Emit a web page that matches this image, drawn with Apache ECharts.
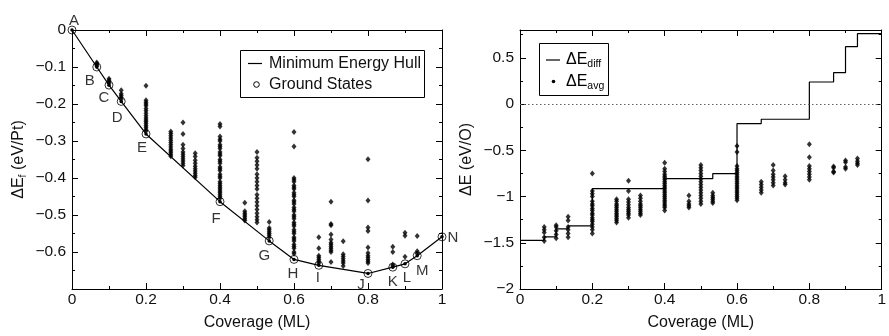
<!DOCTYPE html>
<html><head><meta charset="utf-8">
<script src="https://cdn.jsdelivr.net/npm/echarts@6/dist/echarts.min.js"></script>
<style>html,body{margin:0;padding:0;background:#fff}#c{width:889px;height:336px}</style>
</head><body><div id="c"></div>
<script>
// ---------- DATA ----------
const coverageCols = [0.067,0.1,0.133,0.2,0.267,0.3,0.333,0.4,0.467,0.5,0.533,0.6,0.667,0.7,0.733,0.8,0.867,0.9,0.933];

const configEnergyF = [
  [-0.088,-0.091,-0.094,-0.097],
  [-0.132,-0.136,-0.14,-0.144],
  [-0.163,-0.172,-0.177,-0.182,-0.187],
  [-0.151,-0.19,-0.195,-0.2,-0.205,-0.212,-0.218,-0.225,-0.232,-0.238,-0.243,-0.248,-0.253,-0.258,-0.263,-0.268,-0.273],
  [-0.274,-0.28,-0.286,-0.292,-0.298,-0.304,-0.31,-0.316,-0.322,-0.327,-0.332,-0.337,-0.341],
  [-0.25,-0.281,-0.31,-0.32,-0.33,-0.336,-0.342,-0.348,-0.354,-0.36,-0.366],
  [-0.333,-0.342,-0.352,-0.36,-0.368,-0.375,-0.381,-0.387,-0.393,-0.398],
  [-0.254,-0.261,-0.288,-0.295,-0.3,-0.31,-0.315,-0.32,-0.33,-0.335,-0.34,-0.35,-0.355,-0.36,-0.37,-0.375,-0.38,-0.39,-0.395,-0.4,-0.41,-0.415,-0.42,-0.425,-0.43,-0.435,-0.44,-0.445,-0.45,-0.455],
  [-0.467,-0.49,-0.495,-0.5,-0.505,-0.51,-0.515],
  [-0.33,-0.345,-0.355,-0.365,-0.375,-0.39,-0.4,-0.41,-0.42,-0.43,-0.445,-0.455,-0.465,-0.475,-0.485,-0.495,-0.505,-0.513,-0.52],
  [-0.519,-0.535,-0.54,-0.545,-0.55,-0.555,-0.56],
  [-0.276,-0.315,-0.4,-0.405,-0.41,-0.42,-0.425,-0.43,-0.44,-0.445,-0.45,-0.46,-0.465,-0.47,-0.48,-0.485,-0.49,-0.5,-0.505,-0.51,-0.52,-0.525,-0.53,-0.54,-0.545,-0.55,-0.56,-0.565,-0.57,-0.58,-0.585,-0.59,-0.6,-0.605],
  [-0.56,-0.59,-0.61,-0.615,-0.62,-0.625,-0.63],
  [-0.464,-0.524,-0.528,-0.553,-0.566,-0.575,-0.58,-0.585,-0.59,-0.595,-0.6,-0.627],
  [-0.571,-0.606,-0.612,-0.618,-0.624,-0.63,-0.638],
  [-0.349,-0.461,-0.534,-0.543,-0.588,-0.603,-0.61,-0.615,-0.62,-0.625,-0.63],
  [-0.586,-0.6,-0.634,-0.638],
  [-0.548,-0.556,-0.613],
  [-0.557,-0.598,-0.604]
];

const groundLabels   = ['A','B','C','D','E','F','G','H','I','J','K','L','M','N'];
const groundCoverage = [0,0.067,0.1,0.133,0.2,0.4,0.533,0.6,0.667,0.8,0.867,0.9,0.933,1];
const groundEnergyF  = [0,-0.1,-0.149,-0.193,-0.281,-0.464,-0.57,-0.62,-0.636,-0.658,-0.641,-0.632,-0.61,-0.559];

const diffCoverage = [0,0.067,0.1,0.133,0.2,0.4,0.533,0.6,0.667,0.8,0.867,0.9,0.933,1];
const diffEnergy   = [-1.475,-1.436,-1.35,-1.317,-0.914,-0.806,-0.752,-0.212,-0.165,0.238,0.339,0.62,0.76];

const avgEnergy = [
  [-1.33,-1.36,-1.39,-1.44,-1.48],
  [-1.31,-1.33,-1.37,-1.41,-1.45],
  [-1.22,-1.26,-1.33,-1.36,-1.4,-1.44],
  [-0.75,-0.94,-0.97,-1.0,-1.05,-1.08,-1.1,-1.13,-1.15,-1.18,-1.2,-1.23,-1.25,-1.27,-1.3,-1.33,-1.36,-1.4],
  [-1.03,-1.05,-1.08,-1.1,-1.12,-1.14,-1.16,-1.18,-1.2,-1.22,-1.24,-1.26,-1.28],
  [-0.83,-0.94,-1.03,-1.06,-1.09,-1.12,-1.14,-1.16,-1.18,-1.2,-1.23],
  [-0.99,-1.02,-1.05,-1.08,-1.1,-1.12,-1.14,-1.16,-1.18,-1.2],
  [-0.635,-0.7,-0.73,-0.76,-0.78,-0.8,-0.82,-0.84,-0.86,-0.88,-0.9,-0.92,-0.94,-0.96,-0.98,-1.0,-1.02,-1.04,-1.06,-1.08,-1.1,-1.12,-1.15],
  [-0.99,-1.05,-1.08,-1.1,-1.12],
  [-0.66,-0.69,-0.72,-0.75,-0.78,-0.81,-0.84,-0.87,-0.9,-0.93,-0.96,-0.99,-1.02,-1.05,-1.08],
  [-0.96,-0.99,-1.01,-1.03,-1.05,-1.07],
  [-0.455,-0.52,-0.67,-0.7,-0.72,-0.74,-0.76,-0.78,-0.8,-0.82,-0.84,-0.86,-0.88,-0.9,-0.92,-0.94,-0.96,-0.98,-1.0,-1.02,-1.04],
  [-0.84,-0.87,-0.9,-0.93,-0.96],
  [-0.66,-0.72,-0.76,-0.79,-0.82,-0.85,-0.88],
  [-0.78,-0.82,-0.85,-0.87],
  [-0.435,-0.575,-0.67,-0.7,-0.73,-0.76,-0.79,-0.82],
  [-0.675,-0.69,-0.73,-0.74],
  [-0.61,-0.63,-0.68,-0.7],
  [-0.59,-0.62,-0.64,-0.66]
];

const xTitle = 'Coverage (ML)';
const legendLeft = ['Minimum Energy Hull','Ground States'];

// ---------- STYLE / LAYOUT ----------
const FONT = '"Liberation Sans", Arial, Helvetica, sans-serif';
const INK = '#111';
const LABEL_OFFSETS = [[2,-9],[-7,14],[-5,13],[-4,16],[-4,14],[-4,17],[-5,15],[-1,14],[-1,13],[-7,11],[0,15],[2,14],[5,15],[11,1]];

function flatten(cols, vals){
  const out=[];
  cols.forEach((x,i)=>vals[i].forEach(v=>out.push([x,v])));
  return out;
}
function fmt(v){
  if (Math.abs(v) < 1e-9) return '0';
  return String(+v.toFixed(2)).replace('-', '\u2212');
}
const G0 = {left:72, top:30, width:370, height:259.5};
const G1 = {left:520, top:30, width:370, height:259.5};

function xAx(grid, pos, labels){
  return {
    type:'value', gridIndex:grid, position:pos, min:0, max:1, interval:0.2,
    axisLine:{show:true, onZero:false, lineStyle:{color:'#000', width:1}},
    axisTick:{show:true, inside:true, length:6, lineStyle:{color:'#000'}},
    minorTick:{show:true, splitNumber:2, length:3, lineStyle:{color:'#000'}},
    splitLine:{show:false},
    axisLabel:{show:labels, margin:3, fontSize:15.5, color:INK, fontFamily:FONT, formatter:fmt},
    name: labels ? xTitle : '', nameLocation:'middle', nameGap:26,
    nameTextStyle:{fontSize:16, color:INK, fontFamily:FONT}
  };
}
const richName = {
  m:{fontSize:16, lineHeight:20, color:INK, fontFamily:FONT},
  s:{fontSize:10.5, lineHeight:13, verticalAlign:'bottom', color:INK, fontFamily:FONT}
};
function yAx(grid, pos, min, max, interval, labels, name, hideFn){
  return {
    type:'value', gridIndex:grid, position:pos, min:min, max:max, interval:interval,
    axisLine:{show:true, onZero:false, lineStyle:{color:'#000', width:1}},
    axisTick:{show:true, inside:true, length:6, lineStyle:{color:'#000'}},
    minorTick:{show:true, splitNumber:2, length:3, lineStyle:{color:'#000'}},
    splitLine:{show:false},
    axisLabel:{show:labels, margin:6, fontSize:15.5, color:INK, fontFamily:FONT, showMaxLabel: grid===0,
      formatter: v => (hideFn && hideFn(v)) ? '' : fmt(v)},
    name: labels ? name : '', nameLocation:'middle', nameGap:43, nameRotate:90,
    nameTextStyle:{fontSize:16, color:INK, fontFamily:FONT, rich:richName}
  };
}

const stepData = diffCoverage.map((x,i)=>[x, diffEnergy[Math.min(i, diffEnergy.length-1)]]);
const groundData = groundCoverage.map((x,i)=>[x,groundEnergyF[i]]);

const option = {
  animation:false,
  backgroundColor:'#fff',
  grid:[G0, G1],
  xAxis:[ xAx(0,'bottom',true), xAx(0,'top',false), xAx(1,'bottom',true), xAx(1,'top',false) ],
  yAxis:[
    yAx(0,'left',-0.7,0,0.1,true,'{m|\u0394E}{s|f}{m| (eV/Pt)}', v => v < -0.65),
    yAx(0,'right',-0.7,0,0.1,false,''),
    yAx(1,'left',-2,0.8,0.5,true,'{m|\u0394E (eV/O)}'),
    yAx(1,'right',-2,0.8,0.5,false,'')
  ],
  series:[
    { type:'scatter', xAxisIndex:0, yAxisIndex:0, data:flatten(coverageCols, configEnergyF),
      symbol:'diamond', symbolSize:[5,6], itemStyle:{color:'#000'}, clip:false, silent:true },
    { type:'line', xAxisIndex:0, yAxisIndex:0, data:groundData,
      symbol:'circle', symbolSize:3.5, showSymbol:true, itemStyle:{color:'#000'},
      lineStyle:{color:'#000', width:1.2}, clip:false, silent:true, z:2 },
    { type:'scatter', xAxisIndex:0, yAxisIndex:0, data:groundData,
      symbol:'circle', symbolSize:8, itemStyle:{color:'rgba(0,0,0,0)', borderColor:'#000', borderWidth:1}, clip:false, silent:true,
      label:{show:true, position:'inside', fontSize:15, color:'#000', fontFamily:FONT, textBorderWidth:0,
        formatter: p => groundLabels[p.dataIndex]},
      labelLayout: p => ({dx: LABEL_OFFSETS[p.dataIndex][0], dy: LABEL_OFFSETS[p.dataIndex][1]}),
      z:3 },
    { type:'line', xAxisIndex:2, yAxisIndex:2, data:stepData, step:'end', symbol:'none',
      lineStyle:{color:'#000', width:1.2}, clip:false, silent:true,
      markLine:{silent:true, symbol:'none', label:{show:false},
        lineStyle:{color:'#666', type:[1.5,2.5], width:1}, data:[{yAxis:0}]} },
    { type:'scatter', xAxisIndex:2, yAxisIndex:2, data:flatten(coverageCols, avgEnergy),
      symbol:'diamond', symbolSize:[5,6], itemStyle:{color:'#000'}, clip:false, silent:true }
  ],
  graphic:[
    {type:'rect', shape:{x:240.5, y:50.5, width:184, height:47}, style:{fill:'#fff', stroke:'#000', lineWidth:1}, z:10},
    {type:'line', shape:{x1:248, y1:63.5, x2:262, y2:63.5}, style:{stroke:'#000', lineWidth:1.2}, z:11},
    {type:'text', x:269, y:63.5, style:{text:legendLeft[0], fontSize:16, fontFamily:FONT, fill:INK, verticalAlign:'middle'}, z:11},
    {type:'circle', shape:{cx:256.5, cy:84.5, r:2.8}, style:{fill:'none', stroke:'#000', lineWidth:1}, z:11},
    {type:'text', x:269, y:84.5, style:{text:legendLeft[1], fontSize:16, fontFamily:FONT, fill:INK, verticalAlign:'middle'}, z:11},

    {type:'rect', shape:{x:539.5, y:43.5, width:69, height:52}, style:{fill:'#fff', stroke:'#000', lineWidth:1}, z:10},
    {type:'line', shape:{x1:546, y1:60, x2:560, y2:60}, style:{stroke:'#000', lineWidth:1.2}, z:11},
    {type:'text', x:566, y:60, style:{text:'{m|\u0394E}{s|diff}', rich:richName, verticalAlign:'middle'}, z:11},
    {type:'circle', shape:{cx:553.5, cy:81.5, r:1.8}, style:{fill:'#000'}, z:11},
    {type:'text', x:566, y:81.5, style:{text:'{m|\u0394E}{s|avg}', rich:richName, verticalAlign:'middle'}, z:11}
  ]
};
const chart = echarts.init(document.getElementById('c'), null, {renderer:'canvas'});
chart.setOption(option);
</script>
</body></html>
